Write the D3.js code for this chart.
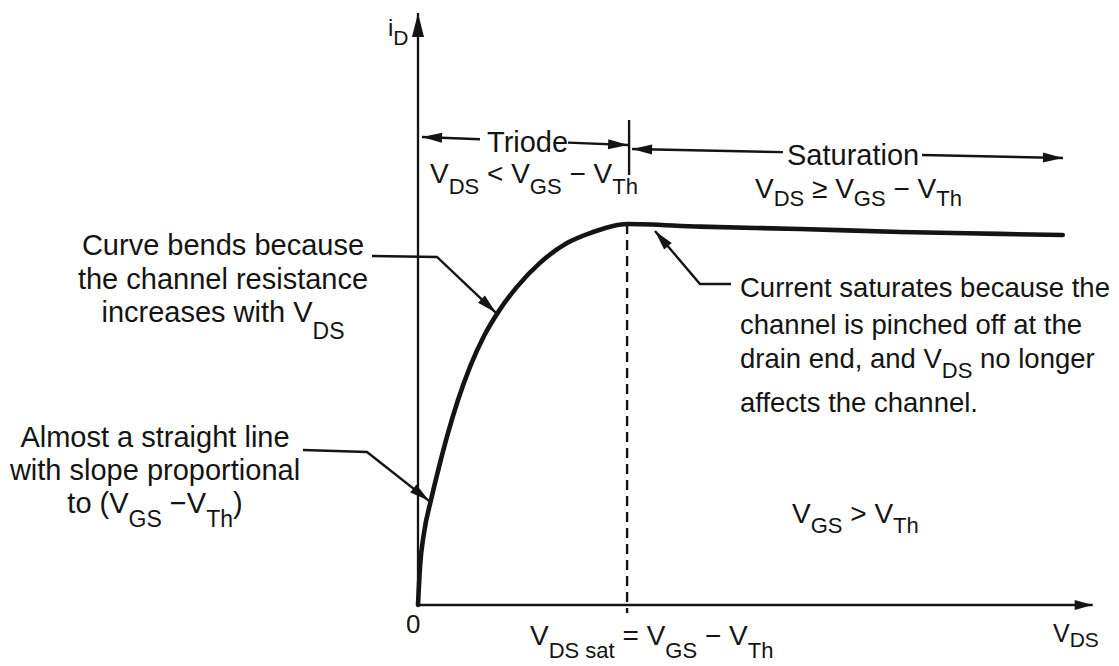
<!DOCTYPE html>
<html><head><meta charset="utf-8">
<script src="https://cdn.jsdelivr.net/npm/d3@7"></script>
<style>
body{margin:0;background:#fff}
svg{display:block}
text{font-family:"Liberation Sans",Arial,Helvetica,sans-serif;fill:#141414;white-space:pre}
</style>
</head><body><div id="chart"></div>
<script>
// ---- data ----
const vds = [0, 0.029, 0.086, 0.187, 0.301, 0.430, 0.574, 0.746, 0.947, 1.162, 1.420, 1.750, 2.138, 2.511, 2.798, 3.0, 4.05, 5.48, 6.92, 8.35, 9.25];
const iD  = [0, 0.100, 0.189, 0.276, 0.362, 0.451, 0.538, 0.625, 0.706, 0.772, 0.835, 0.898, 0.950, 0.979, 0.995, 1.0, 0.993, 0.987, 0.979, 0.974, 0.971];
const vdsSat = 3;
const xAxisEnd = 9.68;
const yAxisEnd = 1.554;
const xAxisLabel = "V_{DS}";
const yAxisLabel = "i_{D}";
const originLabel = "0";
const regionNames = ["Triode", "Saturation"];
const regionConditions = ["V_{DS} < V_{GS} − V_{Th}", "V_{DS} ≥ V_{GS} − V_{Th}"];
const noteBends = ["Curve bends because", "the channel resistance", "increases with V_{DS}"];
const noteLinear = ["Almost a straight line", "with slope proportional", "to (V_{GS} −V_{Th})"];
const noteSat = ["Current saturates because the", "channel is pinched off at the", "drain end, and V_{DS} no longer", "affects the channel."];
const gateCondition = "V_{GS} > V_{Th}";
const satLabel = "V_{DS sat} = V_{GS} − V_{Th}";

// ---- drawing ----
const W = 1119, H = 666;
const svg = d3.select("#chart").append("svg").attr("width", W).attr("height", H);
svg.append("rect").attr("width", W).attr("height", H).attr("fill", "#fff");

const x = d3.scaleLinear().domain([0, 10]).range([418, 1115]);
const y = d3.scaleLinear().domain([0, 1]).range([605, 224]);
const ink = "#141414";

const defs = svg.append("defs");
function marker(id, len, half) {
  defs.append("marker").attr("id", id)
    .attr("markerUnits", "userSpaceOnUse")
    .attr("viewBox", `${-len-4} ${-half-4} ${len+8} ${2*half+8}`)
    .attr("markerWidth", len + 8).attr("markerHeight", 2*half + 8)
    .attr("refX", 0).attr("refY", 0).attr("orient", "auto")
    .append("path").attr("d", `M0,0L${-len},${-half}L${-len},${half}Z`).attr("fill", ink);
}
marker("ahY", 24, 6);
marker("ahX", 18, 5);
marker("ah", 20, 5);

function rich(g, str, px, py, opt = {}) {
  const fs = opt.fs || 28, sfs = opt.sfs || 22, sdy = opt.sdy || 10;
  const t = g.append("text").attr("x", px).attr("y", py)
    .attr("font-size", fs).attr("text-anchor", opt.anchor || "start");
  const parts = [];
  str.replace(/_\{([^}]*)\}|([^_]+)/g, (all, s, n) => { parts.push(s != null ? {t: s, sub: true} : {t: n, sub: false}); return all; });
  let shift = 0;
  parts.forEach(p => {
    const ts = t.append("tspan").text(p.t);
    if (p.sub) { ts.attr("font-size", sfs).attr("dy", sdy - shift); shift = sdy; }
    else { if (shift) ts.attr("dy", -shift); shift = 0; }
  });
  return t;
}

const line = d3.line();
function leader(pts) {
  svg.append("path").attr("d", line(pts)).attr("fill", "none")
    .attr("stroke", ink).attr("stroke-width", 2.4).attr("stroke-linejoin", "miter")
    .attr("marker-end", "url(#ah)");
}

// axes
svg.append("line").attr("x1", x(0)).attr("y1", y(0)).attr("x2", x(0)).attr("y2", y(yAxisEnd))
  .attr("stroke", ink).attr("stroke-width", 2.3).attr("marker-end", "url(#ahY)");
svg.append("line").attr("x1", x(0) - 1).attr("y1", y(0)).attr("x2", x(xAxisEnd)).attr("y2", y(0))
  .attr("stroke", ink).attr("stroke-width", 2.3).attr("marker-end", "url(#ahX)");

// dashed saturation boundary
svg.append("line").attr("x1", x(vdsSat)).attr("x2", x(vdsSat))
  .attr("y1", y(1)).attr("y2", y(0) + 8)
  .attr("stroke", ink).attr("stroke-width", 2.4).attr("stroke-dasharray", "10,6");

// the characteristic curve
const pts = vds.map((v, i) => [x(v), y(iD[i])]);
svg.append("path").attr("d", d3.line().curve(d3.curveMonotoneX)(pts))
  .attr("fill", "none").attr("stroke", ink).attr("stroke-width", 4.6).attr("stroke-linecap", "round");

// region arrows
function regionArrow(p1, p2, gap) {
  const yy = xx => p1[1] + (p2[1] - p1[1]) * (xx - p1[0]) / (p2[0] - p1[0]);
  [[[gap[0], yy(gap[0])], p1], [[gap[1], yy(gap[1])], p2]].forEach(s => {
    svg.append("path").attr("d", line(s)).attr("stroke", ink).attr("stroke-width", 2.4)
      .attr("fill", "none").attr("marker-end", "url(#ah)");
  });
}
regionArrow([x(0) + 4, 137], [x(vdsSat) + 1, 145], [480, 568]);
regionArrow([x(vdsSat) + 5, 149], [1063, 158], [783, 922]);
svg.append("line").attr("x1", x(vdsSat) + 2).attr("x2", x(vdsSat) + 2).attr("y1", 120).attr("y2", 175)
  .attr("stroke", ink).attr("stroke-width", 2.4);

rich(svg, regionNames[0], 487, 152, {fs: 29});
rich(svg, regionNames[1], 787, 165, {fs: 29});
rich(svg, regionConditions[0], 430, 183, {sdy: 11});
rich(svg, regionConditions[1], 755, 198, {sdy: 8});

// axis labels
rich(svg, yAxisLabel, 388, 36, {fs: 24, sfs: 21, sdy: 9});
rich(svg, originLabel, 406, 633, {fs: 26});
rich(svg, xAxisLabel, 1053, 642, {fs: 25, sfs: 21, sdy: 5});
rich(svg, satLabel, 530, 645, {sdy: 13});
rich(svg, gateCondition, 792, 523, {sdy: 10});

// notes
noteBends.forEach((s, i) => rich(svg, s, 223, 255 + i * 33.5, {anchor: "middle", fs: 29, sfs: 23, sdy: 17}));
noteLinear.forEach((s, i) => rich(svg, s, 155, 447 + i * 33, {anchor: "middle", fs: 29, sfs: 23, sdy: 14}));
const satBase = [297, 334, 368, 412];
noteSat.forEach((s, i) => rich(svg, s, 740, satBase[i], {fs: 27.5, sdy: 10}));

// leader arrows, tips anchored on the curve
leader([[372, 256], [437, 257], [x(vds[9]) - 3, y(iD[9]) + 2]]);
leader([[303, 450], [367, 452], [x(vds[3]) - 2, y(iD[3]) + 1]]);
leader([[731, 284], [700, 284], [x(3.4), y(0.992) + 4]]);
</script>
</body></html>
